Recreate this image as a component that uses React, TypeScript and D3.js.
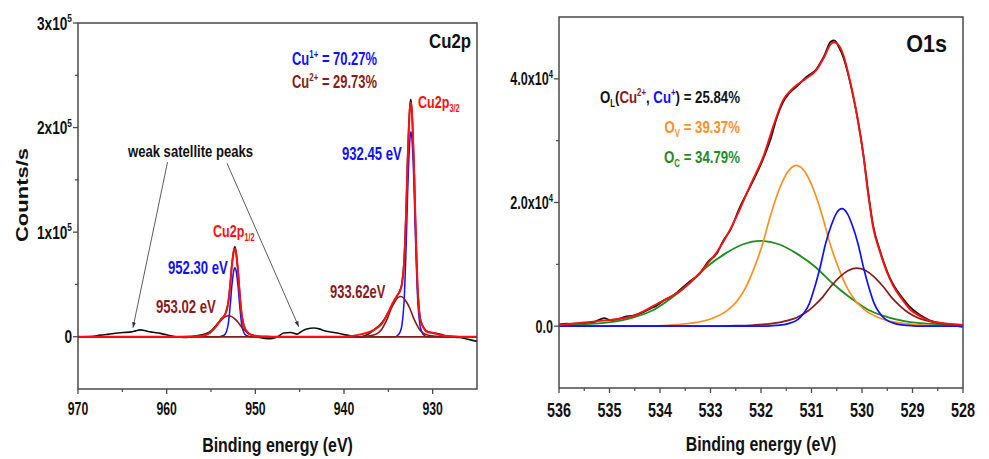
import React from "react";
import * as d3 from "d3";

type P = [number, number];

// ---------- Cu 2p panel (binding energy eV, counts/s) ----------
const cuRaw: P[] = [
  [970, 0], [968.5, 200], [967.5, 1500], [966.5, 2500], [965.5, 3500], [964.9, 4000], [964.0, 4600],
  [963.5, 5600], [963.0, 6500], [962.5, 6000], [962.1, 5000], [961.5, 4200], [960.7, 3200], [960.0, 1800],
  [959.6, 800], [959.0, 0], [958.1, -700], [957.5, -500], [957.0, 400], [956.6, 1000], [956.0, 1800],
  [955.4, 3500], [955.0, 5500], [954.6, 9000], [954.2, 13000], [953.8, 17500], [953.55, 19500], [953.3, 24000],
  [953.05, 33500], [952.925, 42500], [952.8, 53500], [952.675, 66500], [952.55, 76000], [952.425, 83000],
  [952.3, 86000], [952.175, 81000], [952.05, 72000], [951.925, 60500], [951.8, 45500], [951.675, 32500],
  [951.55, 22500], [951.425, 15500], [951.3, 11000], [951.05, 6000], [950.8, 3500], [950.5, 2000], [950.0, 500],
  [949.4, -1000], [948.5, -2000], [948.0, -1500], [947.5, 0], [946.8, 3500], [946.0, 4000], [945.3, 2500],
  [944.8, 5000], [944.2, 7300], [943.4, 8300], [942.8, 7500], [942.3, 6000], [941.5, 4500], [940.8, 3500],
  [940.0, 2000], [939.3, 1000], [938.5, 200], [938.1, -300], [937.5, 1500], [937.0, 4000], [936.5, 7500],
  [936.0, 11000], [935.5, 16000], [935.0, 23500], [934.5, 31000], [934.0, 39000], [933.7, 44000],
  [933.45, 52000], [933.2, 76000], [932.95, 133000], [932.825, 170000], [932.7, 199000], [932.575, 220000],
  [932.45, 227000], [932.325, 214000], [932.2, 187000], [932.075, 155000], [931.95, 113000], [931.825, 78000],
  [931.7, 48000], [931.575, 31000], [931.45, 20000], [931.2, 12000], [930.95, 8000], [930.7, 5500],
  [930.1, 4000], [929.5, 3000], [929.0, 2000], [928.5, 800], [928.0, 0], [927.5, -500], [927.0, -800],
  [926.5, -1500], [926.0, -2500], [925.5, -3500], [925.0, -4500],
];

const cuEnvelope: P[] = [
  [970, 0], [958.5, 0], [957.22, 140], [956.52, 400], [955.82, 1200], [955.12, 3800], [954.42, 10000],
  [954.07, 14000], [953.8, 16900], [953.55, 19400], [953.3, 23400], [953.175, 27000], [953.05, 32500],
  [952.925, 41750], [952.8, 52500], [952.675, 65400], [952.55, 74500], [952.425, 82000], [952.3, 84000],
  [952.175, 80000], [952.05, 70900], [951.925, 59800], [951.8, 45200], [951.675, 32400], [951.55, 21900],
  [951.425, 15300], [951.3, 10800], [951.05, 6100], [950.8, 3660], [950.55, 2200], [950.22, 1200],
  [949.52, 400], [948.82, 140], [948.12, 0], [940, 0], [939, 800], [938, 2500], [937.12, 4500],
  [936.42, 7500], [935.72, 12500], [935.02, 23000], [934.67, 29500], [934.32, 35000], [933.97, 39900],
  [933.7, 43400], [933.45, 50700], [933.2, 73800], [932.95, 131100], [932.825, 168200], [932.7, 197000],
  [932.575, 217000], [932.45, 224000], [932.325, 212000], [932.2, 186000], [932.075, 153600], [931.95, 112200],
  [931.825, 77000], [931.7, 47000], [931.575, 30100], [931.45, 18700], [931.2, 11400], [930.95, 7400],
  [930.7, 5000], [930.12, 3800], [929.5, 2500], [929.0, 1500], [928.0, 600], [927.0, 0], [925, 0],
];

// Cu+ 2p3/2 at 932.45 eV
const cuPlus32: P[] = [
  [970, 0], [934.2, 0], [933.95, 1400], [933.7, 4000], [933.45, 12000], [933.325, 22000], [933.2, 37000],
  [933.075, 65000], [932.95, 98000], [932.825, 137000], [932.7, 167000], [932.575, 188000], [932.45, 196000],
  [932.325, 188000], [932.2, 167000], [932.075, 137000], [931.95, 98000], [931.825, 65000], [931.7, 37000],
  [931.575, 22000], [931.45, 12000], [931.2, 4000], [930.95, 1400], [930.7, 0], [925, 0],
];

// Cu+ 2p1/2 at 952.30 eV
const cuPlus12: P[] = [
  [970, 0], [954.05, 0], [953.8, 460], [953.55, 1300], [953.3, 4000], [953.175, 7300], [953.05, 12500],
  [952.925, 21800], [952.8, 33000], [952.675, 46200], [952.55, 56100], [952.425, 63400], [952.3, 66000],
  [952.175, 63400], [952.05, 56100], [951.925, 46200], [951.8, 33000], [951.675, 21800], [951.55, 12500],
  [951.425, 7300], [951.3, 4000], [951.05, 1300], [950.8, 460], [950.55, 0], [925, 0],
];

// Cu2+ 2p3/2 at 933.62 eV
const cu2Plus32: P[] = [
  [970, 0], [938.52, 0], [937.82, 270], [937.12, 770], [936.42, 2300], [936.07, 4200], [935.72, 7300],
  [935.37, 12700], [935.02, 19250], [934.67, 27000], [934.32, 32700], [933.97, 37000], [933.62, 38500],
  [933.27, 37000], [932.92, 32700], [932.57, 27000], [932.22, 19250], [931.87, 12700], [931.52, 7300],
  [931.17, 4200], [930.82, 2300], [930.12, 770], [929.42, 270], [928.72, 0], [925, 0],
];

// Cu2+ 2p1/2 at 953.02 eV
const cu2Plus12: P[] = [
  [970, 0], [957.92, 0], [957.22, 140], [956.52, 400], [955.82, 1200], [955.47, 2200], [955.12, 3800],
  [954.77, 6600], [954.42, 10000], [954.07, 14000], [953.72, 17000], [953.37, 19200], [953.02, 20000],
  [952.67, 19200], [952.32, 17000], [951.97, 14000], [951.62, 10000], [951.27, 6600], [950.92, 3800],
  [950.57, 2200], [950.22, 1200], [949.52, 400], [948.82, 140], [948.12, 0], [925, 0],
];

const cuXTicks = [970, 960, 950, 940, 930];
const cuXMinor = [965, 955, 945, 935];
const cuYTicks = [0, 100000, 200000, 300000];
const cuYTickBase = ["0", "1x10", "2x10", "3x10"];
const cuYTickExp = ["", "5", "5", "5"];
const cuYMinor = [50000, 150000, 250000];

// ---------- O 1s panel ----------
const oRaw: P[] = [
  [536.0, 300], [535.85, 400], [535.7, 350], [535.5, 500], [535.3, 700], [535.1, 1300], [535.0, 1000],
  [534.85, 1100], [534.7, 1500], [534.53, 1700], [534.35, 2200], [534.2, 2800], [534.07, 3300], [533.9, 4300],
  [533.75, 4900], [533.6, 5900], [533.4, 7300], [533.21, 8500], [533.05, 10400], [532.88, 11700],
  [532.75, 13800], [532.61, 15500], [532.42, 19200], [532.2, 22800], [531.95, 27200], [531.8, 30500],
  [531.7, 33400], [531.56, 36300], [531.45, 37600], [531.29, 38800], [531.1, 40300], [530.9, 41600],
  [530.75, 43700], [530.62, 46000], [530.55, 46200], [530.45, 45000], [530.37, 43500], [530.27, 40600],
  [530.17, 37000], [530.07, 32800], [529.97, 27600], [529.88, 21800], [529.78, 16300], [529.64, 12100],
  [529.5, 8800], [529.38, 6700], [529.2, 4600], [529.05, 3100], [528.85, 1800], [528.65, 900], [528.4, 400],
  [528.19, 100], [528.0, -100],
];

const oEnvelope: P[] = [
  [536.0, 200], [535.5, 600], [535.19, 850], [534.8, 1200], [534.53, 1660], [534.3, 2500], [534.07, 3550],
  [533.8, 4700], [533.6, 5700], [533.4, 7100], [533.21, 8660], [533.05, 10200], [532.88, 11900],
  [532.75, 13600], [532.61, 15650], [532.42, 18900], [532.2, 23000], [531.95, 27500], [531.75, 32500],
  [531.56, 36600], [531.4, 38200], [531.29, 39000], [531.1, 40100], [530.9, 41450], [530.75, 43500],
  [530.62, 45600], [530.55, 45900], [530.45, 45300], [530.37, 43900], [530.27, 40800], [530.17, 37150],
  [530.07, 32700], [529.97, 27500], [529.88, 21500], [529.78, 16000], [529.64, 11900], [529.5, 8600],
  [529.38, 6500], [529.2, 4300], [529.05, 2740], [528.85, 1600], [528.65, 850], [528.4, 500],
  [528.19, 320], [528.0, 200],
];

// O_L bonded to Cu+
const oLCuPlus: P[] = [
  [536, 0], [531.905, 0], [531.69, 130], [531.475, 380], [531.26, 1140], [531.153, 2090], [531.045, 3610],
  [530.938, 6270], [530.83, 9500], [530.723, 13300], [530.615, 16150], [530.508, 18240], [530.4, 19000],
  [530.293, 18240], [530.185, 16150], [530.078, 13300], [529.97, 9500], [529.863, 6270], [529.755, 3610],
  [529.648, 2090], [529.54, 1140], [529.325, 380], [529.11, 130], [528.895, 0], [528, 0],
];

// O_L bonded to Cu2+
const oLCu2Plus: P[] = [
  [536, 0], [533.16, 0], [532.48, 90], [532.14, 190], [531.8, 420], [531.46, 940], [531.29, 1410],
  [531.12, 2160], [530.95, 3290], [530.78, 4700], [530.61, 6490], [530.44, 7990], [530.27, 9020],
  [530.1, 9400], [529.93, 9020], [529.76, 7990], [529.59, 6490], [529.42, 4700], [529.25, 3290],
  [529.08, 2160], [528.91, 1410], [528.74, 940], [528.4, 420], [528.06, 190], [528, 170],
];

// O_V
const oVacancy: P[] = [
  [536, 0], [534.36, 0], [533.68, 260], [533.34, 520], [533.0, 1170], [532.66, 2600], [532.49, 3900],
  [532.32, 5980], [532.15, 9100], [531.98, 13000], [531.81, 17940], [531.64, 22100], [531.47, 24960],
  [531.3, 26000], [531.13, 24960], [530.96, 22100], [530.79, 17940], [530.62, 13000], [530.45, 9100],
  [530.28, 5980], [530.11, 3900], [529.94, 2600], [529.6, 1170], [529.26, 520], [528.92, 260], [528.24, 0],
  [528, 0],
];

// O_C
const oChem: P[] = [
  [536, 60], [535.55, 280], [534.84, 830], [534.485, 1520], [534.13, 2620], [533.775, 4550], [533.42, 6900],
  [533.065, 9660], [532.71, 11730], [532.355, 13250], [532.0, 13800], [531.645, 13250], [531.29, 11730],
  [530.935, 9660], [530.58, 6900], [530.225, 4550], [529.87, 2620], [529.515, 1520], [529.16, 830],
  [528.45, 280], [528, 150],
];

const oXTicks = [536, 535, 534, 533, 532, 531, 530, 529, 528];
const oXMinor = [535.5, 534.5, 533.5, 532.5, 531.5, 530.5, 529.5, 528.5];
const oYTicks = [0, 20000, 40000];
const oYTickBase = ["0.0", "2.0x10", "4.0x10"];
const oYTickExp = ["", "4", "4"];
const oYMinor = [10000, 30000];

// ---------- styling ----------
const FONT = "'Liberation Sans', Arial, Helvetica, sans-serif";
const INK = "#111";
const AXIS = "#4a4a4a";
const RED = "#ff1010";
const BLUE = "#1010ff";
const MAROON = "#8b1a1a";
const ORANGE = "#ff8f1f";
const GREEN = "#1f8c1f";

const Txt = ({ x, y, size, sx = 0.75, fill = INK, anchor = "start", children }: any) => (
  <text
    transform={`translate(${x},${y}) scale(${sx},1)`}
    fontSize={size}
    fill={fill}
    textAnchor={anchor}
    fontFamily={FONT}
    fontWeight="bold"
  >
    {children}
  </text>
);

function Axes({ x, y, xTicks, xMinor, yTicks, yBase, yExp, yMinor, xSize, xSx, xBase, ySize, ySx }: any) {
  const [x0, x1] = x.range();
  const [y0, y1] = y.range();
  return (
    <g>
      <rect x={x0} y={y1} width={x1 - x0} height={y0 - y1} fill="none" stroke={AXIS} strokeWidth={1.5} />
      {xTicks.map((t: number) => (
        <g key={"xt" + t}>
          <line x1={x(t)} x2={x(t)} y1={y0} y2={y0 + 5} stroke={AXIS} strokeWidth={1.3} />
          <Txt x={x(t)} y={xBase} size={xSize} sx={xSx} anchor="middle">{t}</Txt>
        </g>
      ))}
      {xMinor.map((t: number) => (
        <line key={"xm" + t} x1={x(t)} x2={x(t)} y1={y0} y2={y0 + 3} stroke={AXIS} strokeWidth={1.2} />
      ))}
      {yTicks.map((t: number, i: number) => (
        <g key={"yt" + t}>
          <line x1={x0 - 5} x2={x0} y1={y(t)} y2={y(t)} stroke={AXIS} strokeWidth={1.3} />
          <Txt x={x0 - 6} y={y(t) + 6.5} size={ySize} sx={ySx} anchor="end">
            {yBase[i]}
            {yExp[i] && <tspan dy={-7.5} fontSize={11}>{yExp[i]}</tspan>}
          </Txt>
        </g>
      ))}
      {yMinor.map((t: number) => (
        <line key={"ym" + t} x1={x0 - 3} x2={x0} y1={y(t)} y2={y(t)} stroke={AXIS} strokeWidth={1.2} />
      ))}
    </g>
  );
}

export default function App() {
  const xCu = d3.scaleLinear().domain([970, 925]).range([78, 477]);
  const yCu = d3.scaleLinear().domain([-50000, 300000]).range([389, 23]);
  const xO = d3.scaleLinear().domain([536, 528]).range([559, 963]);
  const yO = d3.scaleLinear().domain([-10000, 50000]).range([388, 17]);

  const cuLine = d3.line<P>().x((d) => xCu(d[0])).y((d) => yCu(d[1])).curve(d3.curveMonotoneX);
  const oLine = d3.line<P>().x((d) => xO(d[0])).y((d) => yO(d[1])).curve(d3.curveMonotoneX);

  // annotation arrows, in data units
  const arrows = [
    { from: [959.9, 167000], to: [963.8, 8600] },
    { from: [953.2, 166000], to: [945.1, 9500] },
  ];

  return (
    <svg
      width={989}
      height={459}
      style={{ position: "absolute", left: 0, top: 0, background: "#fff" }}
    >
      <defs>
        <clipPath id="cuClip">
          <rect x={78} y={23} width={399} height={366} />
        </clipPath>
        <clipPath id="oClip">
          <rect x={559} y={17} width={404} height={371} />
        </clipPath>
        <marker id="ah" viewBox="0 0 10 10" refX={10} refY={5} markerWidth={7} markerHeight={7} orient="auto">
          <path d="M0,1.5 L10,5 L0,8.5 z" fill="#333" />
        </marker>
      </defs>
      <rect x={0} y={0} width={989} height={459} fill="#fff" />

      {/* ---- Cu 2p ---- */}
      <g clipPath="url(#cuClip)" fill="none" strokeLinejoin="round">
        <path d={cuLine(cuRaw) || ""} stroke="#111" strokeWidth={1.6} />
        <path d={cuLine(cuPlus32) || ""} stroke={BLUE} strokeWidth={1.5} />
        <path d={cuLine(cuPlus12) || ""} stroke={BLUE} strokeWidth={1.5} />
        <path d={cuLine(cu2Plus32) || ""} stroke={MAROON} strokeWidth={1.6} />
        <path d={cuLine(cu2Plus12) || ""} stroke={MAROON} strokeWidth={1.6} />
        <path d={cuLine(cuEnvelope) || ""} stroke={RED} strokeWidth={2} />
      </g>
      <Axes
        x={xCu} y={yCu} xTicks={cuXTicks} xMinor={cuXMinor} yTicks={cuYTicks}
        yBase={cuYTickBase} yExp={cuYTickExp} yMinor={cuYMinor}
        xSize={18} xSx={0.68} xBase={415} ySize={18} ySx={0.76}
      />
      {arrows.map((a, i) => (
        <line
          key={"ar" + i}
          x1={xCu(a.from[0])} y1={yCu(a.from[1])} x2={xCu(a.to[0])} y2={yCu(a.to[1])}
          stroke="#333" strokeWidth={0.8} markerEnd="url(#ah)"
        />
      ))}
      <Txt x={471} y={48} size={21} sx={0.8} anchor="end">Cu2p</Txt>
      <Txt x={292} y={65} size={18} sx={0.72} fill={BLUE}>
        Cu<tspan dy={-7} fontSize={11}>1+</tspan><tspan dy={7}> = 70.27%</tspan>
      </Txt>
      <Txt x={292} y={88} size={18} sx={0.72} fill={MAROON}>
        Cu<tspan dy={-7} fontSize={11}>2+</tspan><tspan dy={7}> = 29.73%</tspan>
      </Txt>
      <Txt x={418} y={108} size={17} sx={0.74} fill={RED}>
        Cu2p<tspan dy={4} fontSize={10}>3/2</tspan>
      </Txt>
      <Txt x={342} y={160} size={18} sx={0.73} fill={BLUE}>932.45 eV</Txt>
      <Txt x={128} y={157} size={17} sx={0.77}>weak satellite peaks</Txt>
      <Txt x={213} y={237} size={17} sx={0.74} fill={RED}>
        Cu2p<tspan dy={4} fontSize={10}>1/2</tspan>
      </Txt>
      <Txt x={168} y={274} size={18} sx={0.73} fill={BLUE}>952.30 eV</Txt>
      <Txt x={156} y={313} size={18} sx={0.73} fill={MAROON}>953.02 eV</Txt>
      <Txt x={330} y={298} size={18} sx={0.72} fill={MAROON}>933.62eV</Txt>
      <Txt x={277.5} y={452} size={21} sx={0.76} anchor="middle">Binding energy (eV)</Txt>
      <text
        transform="translate(28,195) rotate(-90) scale(1,0.78)"
        fontSize={22}
        fontFamily={FONT}
        fontWeight="bold"
        fill={INK}
        textAnchor="middle"
      >
        Counts/s
      </text>

      {/* ---- O 1s ---- */}
      <g clipPath="url(#oClip)" fill="none" strokeLinejoin="round">
        <path d={oLine(oRaw) || ""} stroke="#111" strokeWidth={1.8} />
        <path d={oLine(oChem) || ""} stroke={GREEN} strokeWidth={1.8} />
        <path d={oLine(oVacancy) || ""} stroke={ORANGE} strokeWidth={1.7} />
        <path d={oLine(oLCu2Plus) || ""} stroke={MAROON} strokeWidth={1.7} />
        <path d={oLine(oLCuPlus) || ""} stroke={BLUE} strokeWidth={1.7} />
        <path d={oLine(oEnvelope) || ""} stroke={RED} strokeWidth={1.9} />
      </g>
      <Axes
        x={xO} y={yO} xTicks={oXTicks} xMinor={oXMinor} yTicks={oYTicks}
        yBase={oYTickBase} yExp={oYTickExp} yMinor={oYMinor}
        xSize={20} xSx={0.72} xBase={417} ySize={18} ySx={0.7}
      />
      <Txt x={947} y={52} size={23} sx={0.94} anchor="end">O1s</Txt>
      <Txt x={740} y={103} size={17} sx={0.78} anchor="end">
        O<tspan dy={4} fontSize={10}>L</tspan>
        <tspan dy={-4}>(</tspan>
        <tspan fill={MAROON}>Cu</tspan>
        <tspan dy={-7} fontSize={10} fill={MAROON}>2+</tspan>
        <tspan dy={7}>, </tspan>
        <tspan fill={BLUE}>Cu</tspan>
        <tspan dy={-7} fontSize={10} fill={BLUE}>+</tspan>
        <tspan dy={7}>) = 25.84%</tspan>
      </Txt>
      <Txt x={740} y={133} size={17} sx={0.78} anchor="end" fill={ORANGE}>
        O<tspan dy={4} fontSize={10}>V</tspan><tspan dy={-4}> = 39.37%</tspan>
      </Txt>
      <Txt x={740} y={163} size={17} sx={0.78} anchor="end" fill={GREEN}>
        O<tspan dy={4} fontSize={10}>C</tspan><tspan dy={-4}> = 34.79%</tspan>
      </Txt>
      <Txt x={761} y={451} size={21} sx={0.76} anchor="middle">Binding energy (eV)</Txt>
    </svg>
  );
}
